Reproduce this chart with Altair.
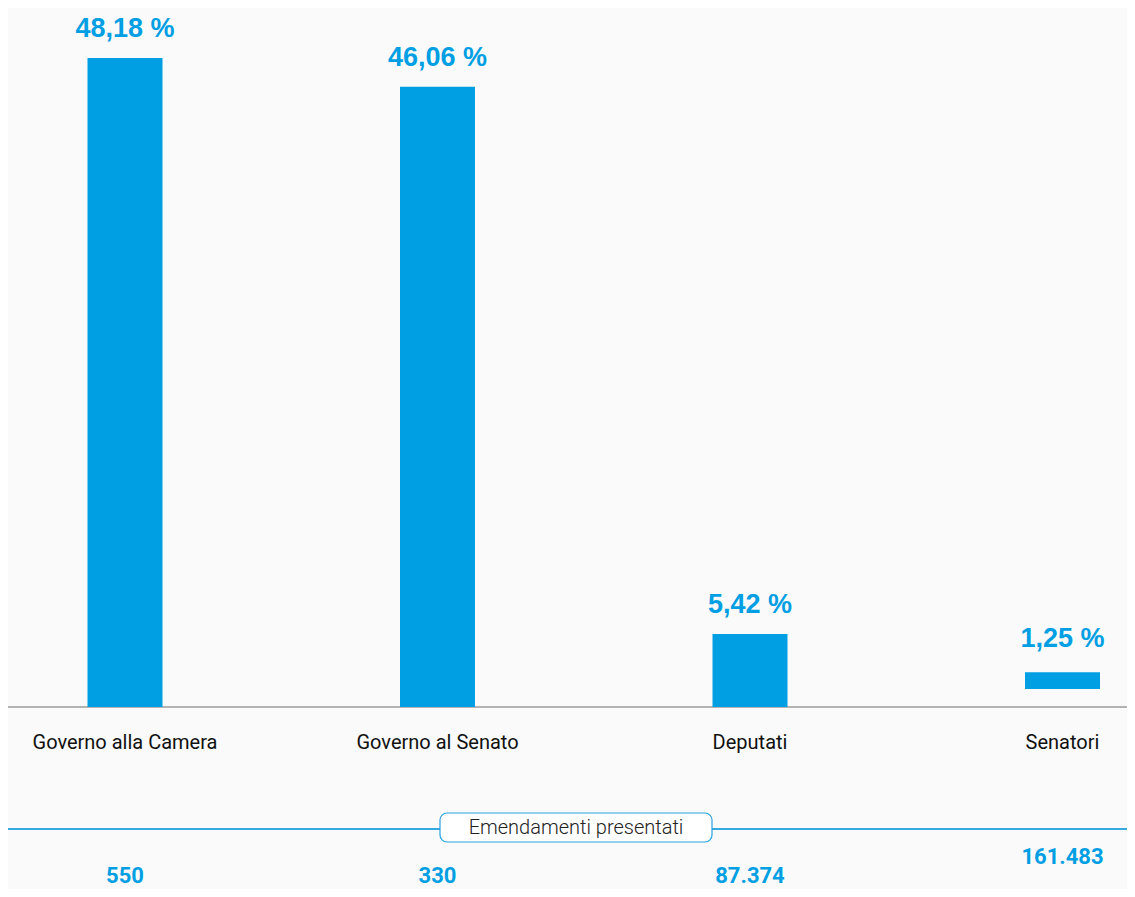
import altair as alt
import pandas as pd

# ---- data ----
categories = ["Governo alla Camera", "Governo al Senato", "Deputati", "Senatori"]
shares = [48.18, 46.06, 5.42, 1.25]          # % share
amendments = [550, 330, 87374, 161483]       # amendments presented
section_title = "Emendamenti presentati"

df = pd.DataFrame({"cat": categories, "share": shares, "count": amendments})

BLUE = "#009fe3"
LINE_BLUE = "#2aa3e0"
W, H = 1119, 881

xenc = alt.X("cat:N", sort=categories, axis=None,
             scale=alt.Scale(paddingInner=0.76, paddingOuter=0.1704, align=0.7465))
yscale = alt.Scale(domain=[0, 51.9], range=[699, 0], nice=False, zero=True)
yenc = alt.Y("share:Q", scale=yscale, axis=None)

main = "datum.cat != 'Senatori'"
last = "datum.cat == 'Senatori'"

base = alt.Chart(df)

bars = base.transform_filter(main).mark_bar(color=BLUE).encode(x=xenc, y=yenc)
bars_last = base.transform_filter(last).mark_bar(
    color=BLUE, yOffset=-18, y2Offset=-18).encode(x=xenc, y=yenc)

pct_fmt = "replace(format(datum.share, '.2f'), '.', ',') + ' %'"
pct_style = dict(baseline="alphabetic", font="Liberation Sans", fontWeight="bold",
                 fontSize=27, color=BLUE)
pct = base.transform_filter(main).transform_calculate(lbl=pct_fmt).mark_text(
    dy=-21, **pct_style).encode(x=xenc, y=yenc, text="lbl:N")
pct_last = base.transform_filter(last).transform_calculate(lbl=pct_fmt).mark_text(
    dy=-43, **pct_style).encode(x=xenc, y=yenc, text="lbl:N")

base_rule = base.mark_rule(color="#b3b3b3", strokeWidth=1.5).encode(
    x=alt.value(0), x2=alt.value(W), y=alt.value(699)
)

cat_labels = base.mark_text(baseline="middle", font="Roboto", fontSize=20,
                            color="#111111").encode(
    x=xenc, y=alt.value(735), text="cat:N"
)

blue_rule = base.mark_rule(color=LINE_BLUE, strokeWidth=1.2).encode(
    x=alt.value(0), x2=alt.value(W), y=alt.value(821)
)

box_df = pd.DataFrame({"t": [section_title]})
box = alt.Chart(box_df).mark_rect(fill="white", stroke=LINE_BLUE, strokeWidth=1.2,
                                  cornerRadius=7).encode(
    x=alt.value(432), x2=alt.value(704), y=alt.value(805), y2=alt.value(834)
)
box_text = alt.Chart(box_df).mark_text(baseline="middle", font="Roboto", fontWeight=300,
                                       fontSize=20, color="#222222").encode(
    x=alt.value(568), y=alt.value(820), text="t:N"
)

cnt_fmt = "replace(format(datum.count, ','), ',', '.')"
cnt_style = dict(baseline="alphabetic", font="Roboto", fontWeight="bold", fontSize=22,
                 color=BLUE)
counts = base.transform_filter(main).transform_calculate(lbl=cnt_fmt).mark_text(
    **cnt_style).encode(x=xenc, y=alt.value(875), text="lbl:N")
counts_last = base.transform_filter(last).transform_calculate(lbl=cnt_fmt).mark_text(
    dy=-19, **cnt_style).encode(x=xenc, y=alt.value(875), text="lbl:N")

chart = alt.layer(base_rule, bars, bars_last, pct, pct_last, cat_labels, blue_rule,
                  box, box_text, counts, counts_last).properties(
    width=W, height=H, padding=0,
    autosize=alt.AutoSizeParams(type="none"),
    background="#fafafa",
).configure_view(stroke=None)

chart.save("out.html", embed_options={"renderer": "svg", "actions": False})
